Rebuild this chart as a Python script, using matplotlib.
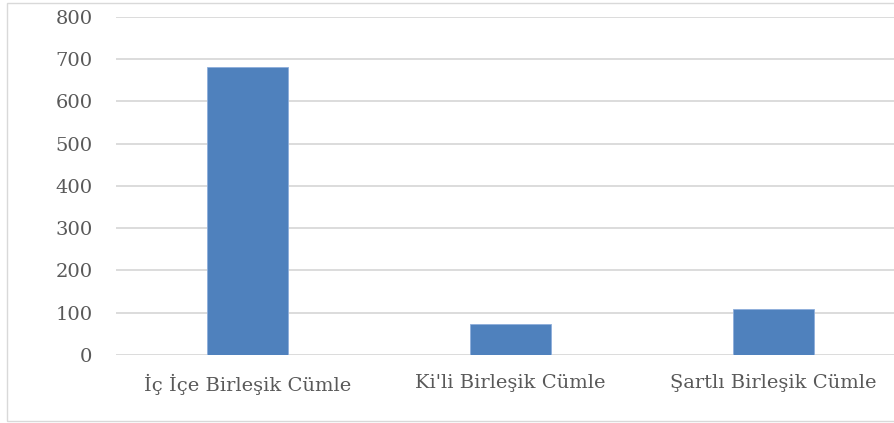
import matplotlib.pyplot as plt
from matplotlib.patches import Rectangle

# Chart data
CATEGORIES = ['İç İçe Birleşik Cümle', "Ki'li Birleşik Cümle",
              'Şartlı Birleşik Cümle']
VALUES = [681, 72, 108]
Y_TICKS = [0, 100, 200, 300, 400, 500, 600, 700, 800]

BAR_COLOR = '#4f81bd'
GRID_COLOR = '#d9d9d9'
TEXT_COLOR = '#595959'

plt.rcParams['font.family'] = ['DejaVu Serif']

FIGURE = plt.figure(figsize=(8.94, 4.23), dpi=100)
# plot area runs past the right edge (the source image is cropped there)
AXES = FIGURE.add_axes([0.1298, 0.161, 0.8826, 0.799])

POSITIONS = range(len(CATEGORIES))
AXES.bar(POSITIONS, VALUES, width=0.31, color=BAR_COLOR,
         edgecolor='#8eaedb', linewidth=0.6, zorder=3)

AXES.set_xlim(-0.5, 2.5)
AXES.set_ylim(0, 800)
AXES.set_yticks(Y_TICKS)
AXES.set_xticks(list(POSITIONS))
AXES.set_xticklabels(CATEGORIES)
AXES.yaxis.grid(True, color=GRID_COLOR, linewidth=1.3, zorder=0)
AXES.set_axisbelow(True)

for spine in AXES.spines.values():
    spine.set_visible(False)

AXES.tick_params(axis='both', length=0, labelsize=14, labelcolor=TEXT_COLOR)
AXES.tick_params(axis='y', pad=17)
AXES.tick_params(axis='x', pad=14)

# Outer chart frame (right side cut off, as in the source)
FIGURE.patches.append(Rectangle((0.008, 0.005), 1.1, 0.988,
                                transform=FIGURE.transFigure,
                                fill=False, edgecolor=GRID_COLOR,
                                linewidth=1.0))

FIGURE.savefig('out.png', dpi=100)
